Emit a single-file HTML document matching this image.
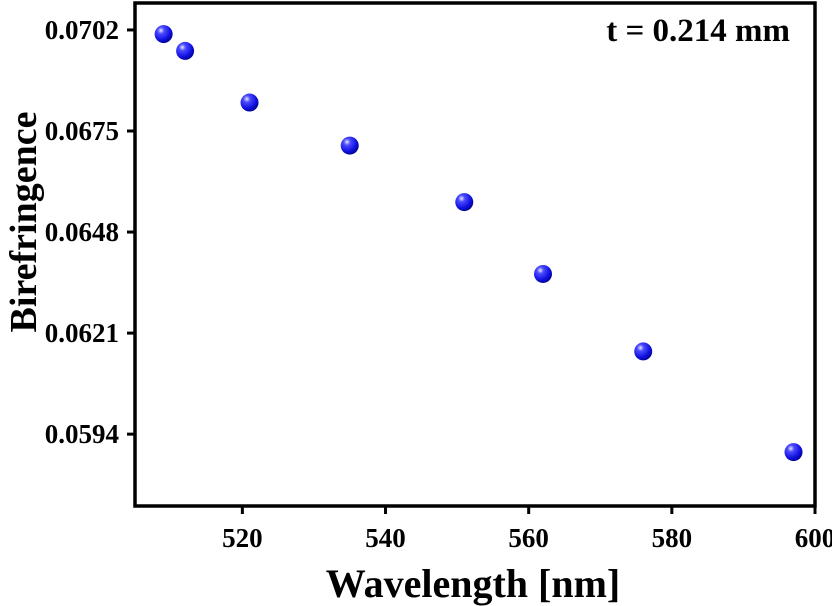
<!DOCTYPE html>
<html><head><meta charset="utf-8"><style>
body{margin:0;background:#fff}
svg{display:block;font-family:"Liberation Serif",serif;font-weight:bold}
</style></head><body>
<svg id="chart" width="832" height="606" viewBox="0 0 832 606">
<defs><radialGradient id="ball" cx="0.35" cy="0.3" r="0.75">
<stop offset="0" stop-color="#e8e8ff"/><stop offset="0.25" stop-color="#4b4bff"/><stop offset="0.7" stop-color="#1010e0"/><stop offset="1" stop-color="#00008a"/></radialGradient></defs>
<g id="axes"></g>
<g id="points"></g>
<text x="790" y="41" font-size="33" text-anchor="end">t = 0.214 mm</text>
<text x="473" y="597" font-size="40" text-anchor="middle">Wavelength [nm]</text>
<text transform="translate(36,222) rotate(-90)" font-size="38" text-anchor="middle">Birefringence</text>
</svg>
<script>
const wavelengths=[509,512,521,535,551,562,576,597];
const birefringence=[0.07009,0.06964,0.06826,0.06711,0.0656,0.06368,0.06161,0.05892];
const xTicks=[520,540,560,580,600];
const yTicks=[0.0594,0.0621,0.0648,0.0675,0.0702];
const yTickLabels=["0.0594","0.0621","0.0648","0.0675","0.0702"];
const L=135,R=815,T=3,B=506,xMin=505,xMax=600,yMin=0.05748,yMax=0.07092;
const sx=v=>L+(v-xMin)/(xMax-xMin)*(R-L);
const sy=v=>B-(v-yMin)/(yMax-yMin)*(B-T);
const NS="http://www.w3.org/2000/svg";
const ax=document.getElementById('axes'),pts=document.getElementById('points');
function mk(tag,attrs,parent){const e=document.createElementNS(NS,tag);for(const k in attrs)e.setAttribute(k,attrs[k]);parent.appendChild(e);return e;}
const frame=mk('rect',{x:L,y:T,width:R-L,height:B-T,fill:'none',stroke:'#000','stroke-width':3.5},ax);


xTicks.forEach(v=>{
 const t=mk('line',{x1:sx(v),x2:sx(v),y1:B,y2:B+8,stroke:'#000','stroke-width':3},ax);
 
 
 const l=mk('text',{x:sx(v),y:B+41,'font-size':27,'text-anchor':'middle'},ax);l.textContent=v;
 
 
});
yTicks.forEach((v,i)=>{
 const t=mk('line',{x1:L-8,x2:L,y1:sy(v),y2:sy(v),stroke:'#000','stroke-width':3},ax);
 
 
 const l=mk('text',{x:L-16,y:sy(v)+9,'font-size':27,'text-anchor':'end'},ax);l.textContent=yTickLabels[i];
 
 
});
wavelengths.forEach((w,i)=>{
 const c=mk('circle',{cx:sx(w),cy:sy(birefringence[i]),r:9,fill:'url(#ball)'},pts);
 
 
});
</script>
</body></html>
